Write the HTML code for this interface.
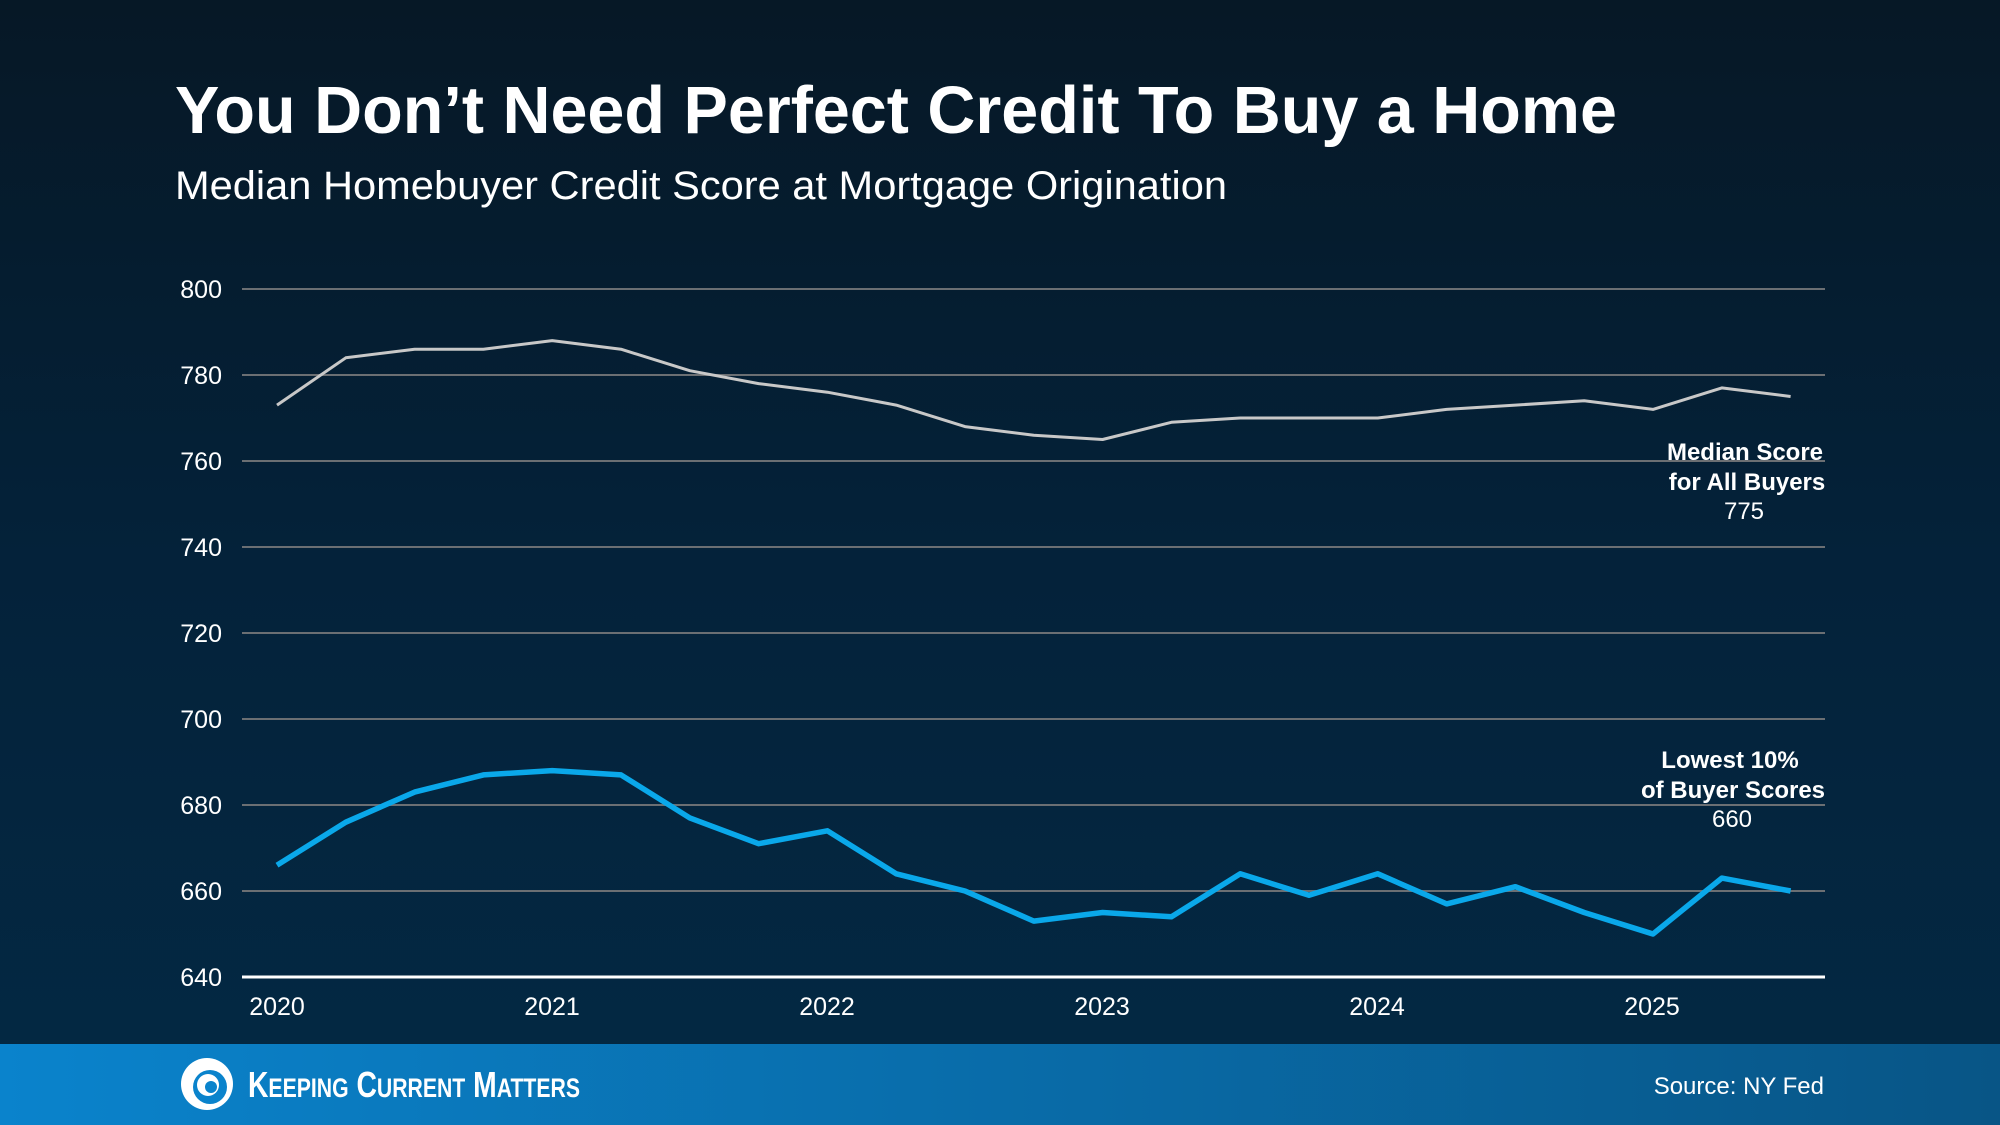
<!DOCTYPE html>
<html><head><meta charset="utf-8"><style>
html,body{margin:0;padding:0;width:2000px;height:1125px;overflow:hidden}
body{background:linear-gradient(180deg,#061826 0%,#04223a 50%,#032944 100%);font-family:"Liberation Sans",Arial,sans-serif}
</style></head><body>
<svg width="2000" height="1125" viewBox="0 0 2000 1125" xmlns="http://www.w3.org/2000/svg" style="position:absolute;left:0;top:0">
<defs><linearGradient id="ft" x1="0" x2="1" y1="0" y2="0"><stop offset="0" stop-color="#0a83cc"/><stop offset="1" stop-color="#085586"/></linearGradient></defs>
<text x="175" y="133" fill="#fff" font-size="67" font-weight="bold" textLength="1442" lengthAdjust="spacingAndGlyphs">You Don’t Need Perfect Credit To Buy a Home</text>
<text x="175" y="199" fill="#fff" font-size="40" textLength="1052" lengthAdjust="spacingAndGlyphs">Median Homebuyer Credit Score at Mortgage Origination</text>
<g stroke="#6b6f73" stroke-width="2">
<line x1="242" x2="1825" y1="289" y2="289"/><line x1="242" x2="1825" y1="375" y2="375"/><line x1="242" x2="1825" y1="461" y2="461"/><line x1="242" x2="1825" y1="547" y2="547"/><line x1="242" x2="1825" y1="633" y2="633"/><line x1="242" x2="1825" y1="719" y2="719"/><line x1="242" x2="1825" y1="805" y2="805"/><line x1="242" x2="1825" y1="891" y2="891"/>
</g>
<line x1="242" x2="1825" y1="977" y2="977" stroke="#fff" stroke-width="3"/>
<g fill="#fff" font-size="25" text-anchor="end">
<text x="222" y="298">800</text><text x="222" y="384">780</text><text x="222" y="470">760</text><text x="222" y="556">740</text><text x="222" y="642">720</text><text x="222" y="728">700</text><text x="222" y="814">680</text><text x="222" y="900">660</text><text x="222" y="986">640</text>
</g>
<g fill="#fff" font-size="25" text-anchor="middle">
<text x="277" y="1015">2020</text><text x="552" y="1015">2021</text><text x="827" y="1015">2022</text><text x="1102" y="1015">2023</text><text x="1377" y="1015">2024</text><text x="1652" y="1015">2025</text>
</g>
<polyline id="g" fill="none" stroke="#c8c8c8" stroke-width="3" stroke-linejoin="round" points=""/>
<polyline id="b" fill="none" stroke="#0aa8ea" stroke-width="5.5" stroke-linejoin="round" points=""/>
<g fill="#fff" font-size="24" text-anchor="middle">
<text x="1745" y="460" font-weight="bold">Median Score</text>
<text x="1747" y="490" font-weight="bold">for All Buyers</text>
<text x="1744" y="519">775</text>
<text x="1730" y="768" font-weight="bold">Lowest 10%</text>
<text x="1733" y="798" font-weight="bold">of Buyer Scores</text>
<text x="1732" y="827">660</text>
</g>
<rect x="0" y="1044" width="2000" height="81" fill="url(#ft)"/>
<g transform="translate(207,1084)">
<circle r="26" fill="#fff"/>
<circle cx="3" cy="3" r="17" fill="#0a83cc"/>
<circle cx="1" cy="1" r="11" fill="#fff"/>
<circle cx="4" cy="3" r="6" fill="#0a83cc"/>
</g>
<text x="248" y="1097" fill="#fff" font-size="36" font-weight="bold" textLength="332" lengthAdjust="spacingAndGlyphs">K<tspan font-size="27">EEPING</tspan> C<tspan font-size="27">URRENT</tspan> M<tspan font-size="27">ATTERS</tspan></text>
<text x="1824" y="1094" fill="#fff" font-size="24" text-anchor="end">Source: NY Fed</text>
</svg>
<script>
var g=[773,784,786,786,788,786,781,778,776,773,768,766,765,769,770,770,770,772,773,774,772,777,775];
var b=[666,676,683,687,688,687,677,671,674,664,660,653,655,654,664,659,664,657,661,655,650,663,660];
function pts(a){return a.map(function(v,i){return (277+i*68.8).toFixed(1)+","+(289+(800-v)*4.3).toFixed(1)}).join(" ")}
document.getElementById("g").setAttribute("points",pts(g));
document.getElementById("b").setAttribute("points",pts(b));
</script>
</body></html>
